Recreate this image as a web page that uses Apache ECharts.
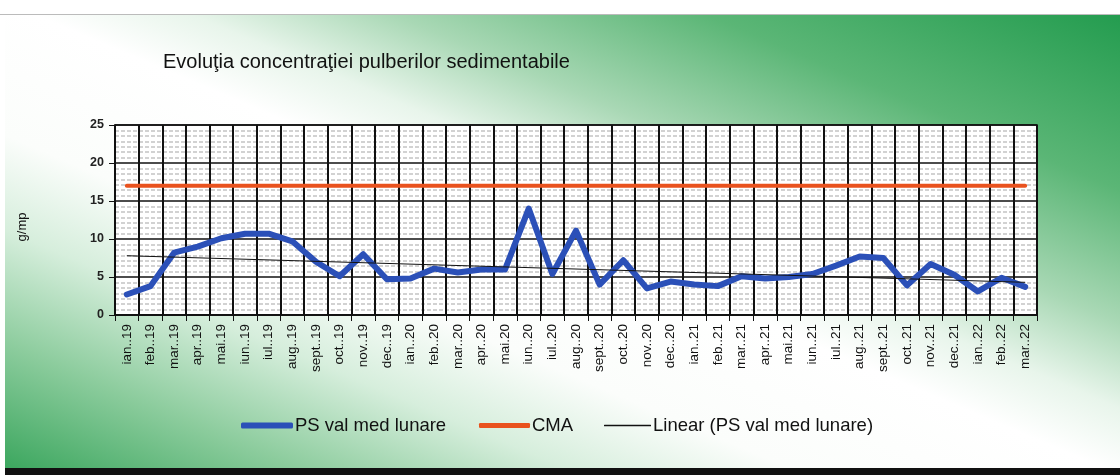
<!DOCTYPE html>
<html>
<head>
<meta charset="utf-8">
<script src="https://cdn.jsdelivr.net/npm/echarts@6/dist/echarts.min.js"></script>
<style>
    html, body { margin: 0; padding: 0; background: #fff; }
    #main {
        width: 1120px;
        height: 475px;
        background:
            linear-gradient(to bottom, #fff 0, #fff 14px, #bbb 14px, #bbb 15px, transparent 15px),
            linear-gradient(to right, #fff 0, #fff 5px, transparent 5px),
            linear-gradient(to bottom, transparent 0, transparent 468px, #111 468px),
            linear-gradient(to top right, #36a45a 0%, #8ccc9d 14%, #d6eedc 26%, #fbfdfb 36%, #ffffff 50%, #e8f5eb 57%, #a9d8b5 66%, #5bb676 80%, #1f9a4c 100%);
    }
</style>
</head>
<body>
<div id="main"></div>
<script>
    // categories (x axis)
    let months = [
        "ian..19", "feb..19", "mar..19", "apr..19", "mai.19", "iun..19", "iul..19", "aug..19",
        "sept..19", "oct..19", "nov..19", "dec..19", "ian..20", "feb..20", "mar..20", "apr..20",
        "mai.20", "iun..20", "iul..20", "aug..20", "sept..20", "oct..20", "nov..20", "dec..20",
        "ian..21", "feb..21", "mar..21", "apr..21", "mai.21", "iun..21", "iul..21", "aug..21",
        "sept..21", "oct..21", "nov..21", "dec..21", "ian..22", "feb..22", "mar..22"
    ];
    // monthly mean values, g/mp
    let psValues = [
        2.7, 3.8, 8.2, 9.0, 10.1, 10.7, 10.7, 9.7,
        7.0, 5.1, 8.0, 4.7, 4.8, 6.1, 5.6, 6.0,
        6.0, 14.0, 5.4, 11.1, 4.0, 7.2, 3.5, 4.4,
        4.0, 3.8, 5.1, 4.8, 5.0, 5.4, 6.5, 7.7,
        7.5, 3.9, 6.7, 5.3, 3.1, 4.9, 3.7
    ];
    // CMA limit
    let cmaValues = [
        17, 17, 17, 17, 17, 17, 17, 17, 17, 17, 17, 17, 17,
        17, 17, 17, 17, 17, 17, 17, 17, 17, 17, 17, 17, 17,
        17, 17, 17, 17, 17, 17, 17, 17, 17, 17, 17, 17, 17
    ];
    // trend line endpoints
    let trendStart = 7.8,
        trendEnd = 4.3;
    let yTicks = { min: 0, max: 25, interval: 5 };

    let trendValues = months.map((m, i) => {
        if (i === 0) return trendStart;
        if (i === months.length - 1) return trendEnd;
        return null;
    });

    let myChart = echarts.init(document.getElementById("main"));
    let font = "Liberation Sans, Arial, sans-serif";

    // one legend per series so each icon can have its own thickness
    function legendFor(name, left, height, width) {
        return {
            left: left,
            top: 411,
            itemWidth: width,
            itemHeight: height,
            icon: "roundRect",
            textStyle: { fontSize: 18.5, color: "#111", fontFamily: font, padding: [0, 0, 0, -3] },
            data: [name]
        };
    }

    let option = {
        animation: false,
        textStyle: { fontFamily: font },
        title: {
            text: "Evoluţia concentraţiei pulberilor sedimentabile",
            left: 158,
            top: 47,
            textStyle: { fontSize: 20, fontWeight: "normal", color: "#111", fontFamily: font }
        },
        legend: [
            legendFor("PS val med lunare", 236, 6, 52),
            legendFor("CMA", 474, 5, 51),
            legendFor("Linear (PS val med lunare)", 599, 1.5, 47)
        ],
        grid: {
            left: 115,
            right: 83,
            top: 125,
            bottom: 160,
            show: true,
            backgroundColor: "#fff",
            borderColor: "#111",
            borderWidth: 1.5
        },
        xAxis: {
            type: "category",
            data: months,
            boundaryGap: true,
            axisLine: { lineStyle: { color: "#111", width: 1.5 } },
            axisTick: { show: true, length: 6, lineStyle: { color: "#111" } },
            axisLabel: {
                rotate: 90,
                interval: 0,
                fontSize: 13.5,
                color: "#111",
                margin: 9,
                fontFamily: font
            },
            splitLine: { show: true, lineStyle: { color: "#111", width: 2 } }
        },
        yAxis: {
            type: "value",
            min: yTicks.min,
            max: yTicks.max,
            interval: yTicks.interval,
            name: "g/mp",
            nameLocation: "middle",
            nameGap: 86,
            nameTextStyle: { fontSize: 13, color: "#111", fontFamily: font, padding: [0, 14, 0, 0] },
            axisLine: { show: true, lineStyle: { color: "#111", width: 1.5 } },
            axisTick: { show: true, length: 6, lineStyle: { color: "#111" } },
            axisLabel: { fontSize: 12.5, fontWeight: "bold", color: "#222", margin: 11, fontFamily: font },
            splitLine: { show: true, lineStyle: { color: "#111", width: 1.5 } },
            minorTick: { show: false, splitNumber: 7 },
            minorSplitLine: { show: true, lineStyle: { color: "#c4c4c4", width: 1.5, type: [4, 2] } }
        },
        series: [
            {
                name: "PS val med lunare",
                type: "line",
                data: psValues,
                symbol: "none",
                lineStyle: { color: "#2b50b8", width: 6, join: "round", cap: "round" },
                itemStyle: { color: "#2b50b8" },
                z: 4
            },
            {
                name: "CMA",
                type: "line",
                data: cmaValues,
                symbol: "none",
                lineStyle: { color: "#e9521e", width: 4, cap: "round" },
                itemStyle: { color: "#e9521e" },
                z: 3
            },
            {
                name: "Linear (PS val med lunare)",
                type: "line",
                data: trendValues,
                connectNulls: true,
                symbol: "none",
                lineStyle: { color: "#111", width: 1 },
                itemStyle: { color: "#111" },
                z: 5
            }
        ]
    };

    myChart.setOption(option);
</script>
</body>
</html>
